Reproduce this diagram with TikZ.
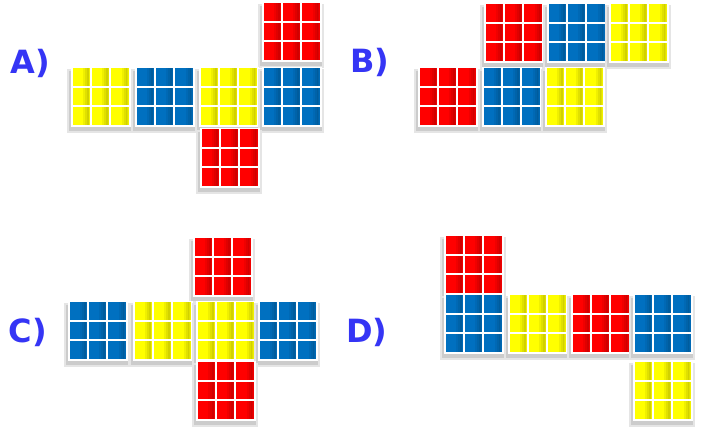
\documentclass[tikz,border=0pt]{standalone}
\usepackage{fontspec}
\newfontfamily\labfont{DejaVu Sans}
\definecolor{cred}{HTML}{FF0000}
\definecolor{cblue}{HTML}{0070C0}
\definecolor{cyel}{HTML}{FFFF00}
\definecolor{labblue}{HTML}{3535F5}
\tikzset{
  lab/.style={font=\labfont\bfseries\fontsize{32}{32}\selectfont, text=labblue, inner sep=0pt},
  shadowbox/.style={fill=black!20},
}
\newcommand\cubeface[4]{% name, x, y, colour
  \fill[black!10] (#2-4,#3+2) rectangle (#2+62,#3+66);
  \fill[shadowbox] (#2-2,#3+4) rectangle (#2+60,#3+64);
  \fill[white] (#2,#3) rectangle (#2+60,#3+60);
  \foreach \i in {0,1,2}{\foreach \j in {0,1,2}{
    \pgfmathsetmacro\cx{#2+1.5+\i*19.3}
    \pgfmathsetmacro\cy{#3+1.5+\j*19.3}
    \fill[#4] (\cx,\cy) rectangle (\cx+17.6,\cy+17.6);
    \fill[#4!94!black] (\cx+10.5,\cy) rectangle (\cx+17.6,\cy+17.6);
    \fill[#4!88!black] (\cx+12.5,\cy) rectangle (\cx+16.8,\cy+17.6);
    \fill[#4!82!black] (\cx+14.5,\cy) rectangle (\cx+16.2,\cy+17.6);
  }}
  \node[inner sep=0pt, minimum size=60pt, anchor=north west] (#1) at (#2,#3) {};
}
\begin{document}
\begin{tikzpicture}[x=1pt,y=-1pt]
\fill[white] (0,0) rectangle (716,430);
\useasboundingbox (0,0) rectangle (716,430);
% A
\node[lab] (la) at (30,63) {A)};
\cubeface{a1}{262}{2}{cred}
\cubeface{a2}{71}{67}{cyel}
\cubeface{a3}{135}{67}{cblue}
\cubeface{a4}{199}{67}{cyel}
\cubeface{a5}{262}{67}{cblue}
\cubeface{a6}{200}{128}{cred}
% B
\node[lab] (lb) at (370,62) {B)};
\cubeface{b1}{484}{3}{cred}
\cubeface{b2}{547}{3}{cblue}
\cubeface{b3}{609}{3}{cyel}
\cubeface{b4}{418}{67}{cred}
\cubeface{b5}{482}{67}{cblue}
\cubeface{b6}{545}{67}{cyel}
% C
\node[lab] (lc) at (28,332) {C)};
\cubeface{c1}{193}{237}{cred}
\cubeface{c2}{68}{301}{cblue}
\cubeface{c3}{133}{301}{cyel}
\cubeface{c4}{196}{301}{cyel}
\cubeface{c5}{258}{301}{cblue}
\cubeface{c6}{196}{361}{cred}
% D
\node[lab] (ld) at (367,332) {D)};
\cubeface{d1}{444}{235}{cred}
\cubeface{d2}{444}{294}{cblue}
\cubeface{d3}{508}{294}{cyel}
\cubeface{d4}{571}{294}{cred}
\cubeface{d5}{633}{294}{cblue}
\cubeface{d6}{633}{361}{cyel}
\end{tikzpicture}
\end{document}
